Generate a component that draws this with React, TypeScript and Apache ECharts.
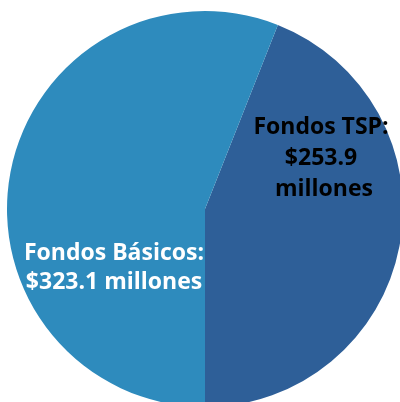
import React, { useEffect, useRef } from "react";
import * as echarts from "echarts";

const categories = ["Fondos TSP", "Fondos Básicos"];
const values = [253.9, 323.1];
const labelTexts = ["Fondos TSP:\n$253.9\n millones", "Fondos Básicos:\n$323.1 millones"];

export default function App() {
  const ref = useRef<HTMLDivElement>(null);
  useEffect(() => {
    if (!ref.current) return;
    const chart = echarts.init(ref.current, undefined, { renderer: "svg" });
    const colors = ["#2E5F98", "#2E8BBD"];
    const textColors = ["#000000", "#ffffff"];
    const labelPos = [
      [321, 156],
      [114, 265],
    ];
    const lineHeights = [31, 29];
    chart.setOption({
      animation: false,
      series: [
        {
          type: "pie",
          center: [205, 209],
          radius: 198,
          startAngle: -90,
          clockwise: false,
          silent: true,
          label: {
            show: true,
            position: "inside",
            fontFamily: "Open Sans",
            fontWeight: "bold",
            fontSize: 23,
            align: "center",
          },
          labelLine: { show: false },
          labelLayout: (params: any) => ({
            x: labelPos[params.dataIndex][0],
            y: labelPos[params.dataIndex][1],
            align: "center",
            verticalAlign: "middle",
          }),
          data: categories.map((c, i) => ({
            name: c,
            value: values[i],
            itemStyle: { color: colors[i] },
            label: {
              formatter: labelTexts[i],
              color: textColors[i],
              lineHeight: lineHeights[i],
            },
          })),
        },
      ],
    });
    return () => chart.dispose();
  }, []);
  return (
    <div
      ref={ref}
      style={{ position: "fixed", left: 0, top: 0, width: 400, height: 402 }}
    />
  );
}
